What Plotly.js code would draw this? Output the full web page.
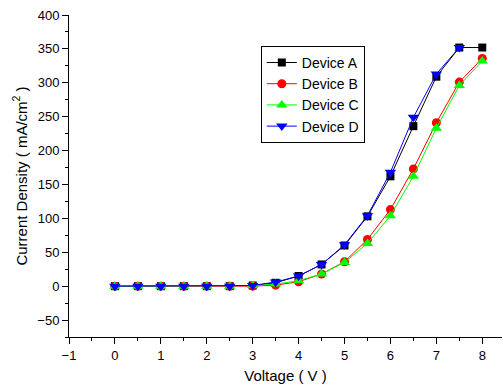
<!DOCTYPE html>
<html>
<head>
<meta charset="utf-8">
<script src="https://cdn.plot.ly/plotly-3.0.1.min.js"></script>
<style>html,body{margin:0;padding:0;background:#fff;}#chart{width:503px;height:390px;}</style>
</head>
<body>
<div id="chart"></div>
<script>
var voltage = [0, 0.5, 1, 1.5, 2, 2.5, 3, 3.5, 4, 4.5, 5, 5.5, 6, 6.5, 7, 7.5, 8];
var voltageD = [0, 0.5, 1, 1.5, 2, 2.5, 3, 3.5, 4, 4.5, 5, 5.5, 6, 6.5, 7, 7.5];
var deviceA = [0, 0, 0, 0, 0, 0, 1, 5, 15, 32, 60, 103, 162, 236, 309, 352, 352];
var deviceB = [0, 0, 0, 0, 0, 0, 0, 1.5, 6.5, 18, 36, 69, 113, 173, 241, 301, 336];
var deviceC = [0, 0, 0, 0, 0, 0, 1, 3, 8, 18, 35, 63, 104, 162, 233, 296, 332];
var deviceD = [0, 0, 0, 0, 0, 0, 1, 6, 15, 32, 61, 104, 168, 249, 313, 352];
var names = ['Device A', 'Device B', 'Device C', 'Device D'];

var traces = [
  {x: voltage, y: deviceA, name: names[0], mode: 'lines+markers', line: {color: '#000000', width: 1}, marker: {symbol: 'square', size: 8, color: '#000000'}},
  {x: voltage, y: deviceB, name: names[1], mode: 'lines+markers', line: {color: '#ff0000', width: 1}, marker: {symbol: 'circle', size: 9, color: '#ff0000'}},
  {x: voltage, y: deviceC, name: names[2], mode: 'lines+markers', line: {color: '#00ff00', width: 1}, marker: {symbol: 'triangle-up', size: 10, color: '#00ff00'}},
  {x: voltageD, y: deviceD, name: names[3], mode: 'lines+markers', line: {color: '#0000ff', width: 1}, marker: {symbol: 'triangle-down', size: 10, color: '#0000ff'}}
];

var font = {family: 'Liberation Sans, Arial, sans-serif', color: '#000'};

var layout = {
  width: 503, height: 390,
  margin: {l: 69, r: 1, t: 15, b: 53},
  paper_bgcolor: '#fff', plot_bgcolor: '#fff',
  font: font,
  showlegend: true,
  legend: {
    x: 0.443, y: 0.904, xanchor: 'left', yanchor: 'top',
    bordercolor: '#000', borderwidth: 1, bgcolor: '#fff',
    font: {family: font.family, size: 14, color: '#000'},
    tracegroupgap: 0
  },
  xaxis: {
    range: [-1, 8.43], dtick: 1, tick0: 0,
    showgrid: false, zeroline: false,
    showline: true, linecolor: '#000', linewidth: 1,
    ticks: 'outside', ticklen: 6, tickcolor: '#000', tickwidth: 1,
    minor: {dtick: 0.5, ticks: 'outside', ticklen: 3, tickcolor: '#000', showgrid: false},
    tickfont: {family: font.family, size: 13, color: '#000'},
    title: {text: 'Voltage ( V )', font: {family: font.family, size: 15, color: '#000'}, standoff: 8}
  },
  yaxis: {
    range: [-75, 400], dtick: 50, tick0: 0,
    showgrid: false, zeroline: false,
    showline: true, linecolor: '#000', linewidth: 1,
    ticks: 'outside', ticklen: 6, tickcolor: '#000', tickwidth: 1,
    minor: {dtick: 25, ticks: 'outside', ticklen: 3, tickcolor: '#000', showgrid: false},
    tickfont: {family: font.family, size: 13, color: '#000'},
    title: {text: 'Current Density ( mA/cm<sup>2</sup> )', font: {family: font.family, size: 15, color: '#000'}, standoff: 6}
  }
};

Plotly.newPlot('chart', traces, layout, {displayModeBar: false, staticPlot: true});
</script>
</body>
</html>
